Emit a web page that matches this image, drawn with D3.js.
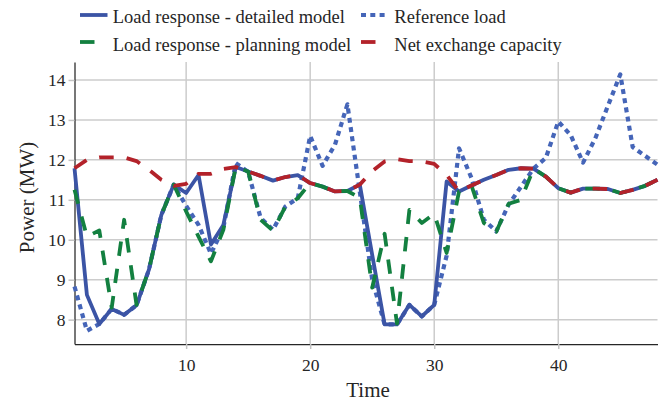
<!DOCTYPE html>
<html>
<head>
<meta charset="utf-8">
<script src="https://cdnjs.cloudflare.com/ajax/libs/d3/7.8.5/d3.min.js"></script>
<style>
  body { margin: 0; background: #fff; }
</style>
</head>
<body>
<div id="chart"></div>
<script>
// data
var time = [1, 2, 3, 4, 5, 6, 7, 8, 9, 10, 11, 12, 13, 14, 15, 16, 17, 18, 19, 20, 21, 22, 23, 24,
            25, 26, 27, 28, 29, 30, 31, 32, 33, 34, 35, 36, 37, 38, 39, 40, 41, 42, 43, 44, 45, 46, 47, 48];

var detailed = [11.79, 8.62, 7.89, 8.27, 8.12, 8.36, 9.25, 10.62, 11.38, 11.17, 11.62, 9.88,
                10.37, 11.82, 11.71, 11.60, 11.48, 11.57, 11.62, 11.42, 11.33, 11.21, 11.22, 11.38,
                9.62, 7.88, 7.88, 8.37, 8.08, 8.37, 11.46, 11.21, 11.36, 11.50, 11.62, 11.75,
                11.79, 11.78, 11.58, 11.29, 11.18, 11.28, 11.28, 11.27, 11.17, 11.25, 11.35, 11.50];

var planning = [11.25, 10.08, 10.23, 8.30, 10.50, 8.37, 9.25, 10.62, 11.38, 10.71, 10.08, 9.46,
                10.25, 11.82, 11.71, 10.50, 10.23, 10.83, 11.04, 11.42, 11.33, 11.21, 11.22, 11.05,
                8.80, 10.15, 7.90, 10.75, 10.42, 10.65, 9.67, 11.21, 11.36, 10.42, 10.20, 10.90,
                11.00, 11.78, 11.58, 11.29, 11.18, 11.28, 11.28, 11.27, 11.17, 11.25, 11.35, 11.50];

var reference = [8.83, 7.72, 7.89, 8.27, 8.12, 8.36, 9.25, 10.62, 11.38, 10.85, 10.37, 9.65,
                 10.30, 11.92, 11.70, 10.55, 10.25, 10.83, 11.04, 12.60, 11.85, 12.38, 13.39, 11.20,
                 9.00, 7.88, 7.88, 8.37, 8.08, 8.37, 9.60, 12.29, 11.55, 10.50, 10.21, 10.88,
                 11.33, 11.78, 12.05, 12.96, 12.62, 11.93, 12.55, 13.35, 14.14, 12.32, 12.10, 11.88];

var exchange = [11.79, 12.00, 12.06, 12.06, 12.06, 11.97, 11.75, 11.50, 11.35, 11.40, 11.65, 11.65,
                11.77, 11.82, 11.71, 11.60, 11.48, 11.57, 11.62, 11.42, 11.33, 11.21, 11.22, 11.38,
                11.72, 11.96, 12.02, 11.97, 11.96, 11.90, 11.62, 11.21, 11.36, 11.50, 11.62, 11.75,
                11.79, 11.78, 11.58, 11.29, 11.18, 11.28, 11.28, 11.27, 11.17, 11.25, 11.35, 11.50];

var xTicks = [10, 20, 30, 40];
var yTicks = [8, 9, 10, 11, 12, 13, 14];

var serif = '"Liberation Serif"';

// series in drawing order (reference sits under the detailed model)
var series = [
  {name: "Reference load",                  values: reference, color: "#4565b8", dash: "5,4.3", lw: 4.2},
  {name: "Load response - detailed model",  values: detailed,  color: "#3b54a5", dash: null, lw: 3.8},
  {name: "Load response - planning model",  values: planning,  color: "#138040", dash: "14.5,13", lw: 3.8},
  {name: "Net exchange capacity",           values: exchange,  color: "#b3222a", dash: "14.5,13", lw: 3.8}
];

// set the dimensions and margins of the graph
var margin = {top: 62, right: 4.5, bottom: 60, left: 74.5},
    width = 662 - margin.left - margin.right,
    height = 404 - margin.top - margin.bottom;

var svg = d3.select("#chart")
  .append("svg")
    .attr("width", 662)
    .attr("height", 404);

var g = svg.append("g")
    .attr("transform", "translate(" + margin.left + "," + margin.top + ")");

var x = d3.scaleLinear().domain([1, 48]).range([0, width]);
var y = d3.scaleLinear().domain([7.39, 14.45]).range([height, 0]);

// grid
g.append("g")
  .selectAll("line")
  .data(yTicks)
  .enter().append("line")
    .attr("x1", 0).attr("x2", width)
    .attr("y1", d => y(d)).attr("y2", d => y(d))
    .attr("stroke", "#cccccc").attr("stroke-width", 1.5);

g.append("g")
  .selectAll("line")
  .data(xTicks)
  .enter().append("line")
    .attr("y1", 0).attr("y2", height)
    .attr("x1", d => x(d)).attr("x2", d => x(d))
    .attr("stroke", "#cccccc").attr("stroke-width", 1.5);

// axes
var xAxis = g.append("g")
    .attr("transform", "translate(0," + height + ")")
    .call(d3.axisBottom(x).tickValues(xTicks).tickFormat(d3.format("d"))
      .tickSizeInner(5).tickSizeOuter(0).tickPadding(10));

var yAxis = g.append("g")
    .call(d3.axisLeft(y).tickValues(yTicks).tickFormat(d3.format("d"))
      .tickSizeInner(6).tickSizeOuter(0).tickPadding(3));

[xAxis, yAxis].forEach(function(a) {
  a.attr("font-family", serif).attr("font-size", 17.5);
  a.select(".domain").attr("stroke", "#262626").attr("stroke-width", 1.25);
  a.selectAll(".tick line").attr("stroke", "#c4c4c4").attr("stroke-width", 1.5);
  a.selectAll(".tick text").attr("fill", "#262626");
});

// lines
var line = d3.line()
  .x((d, i) => x(time[i]))
  .y(d => y(d));

series.forEach(function(s) {
  g.append("path")
    .datum(s.values)
    .attr("fill", "none")
    .attr("stroke", s.color)
    .attr("stroke-width", s.lw)
    .attr("stroke-linejoin", "round")
    .attr("stroke-dasharray", s.dash)
    .attr("d", line);
});

// axis labels
svg.append("text")
  .attr("text-anchor", "middle")
  .attr("x", 368)
  .attr("y", 397)
  .attr("font-family", serif)
  .attr("font-size", 21)
  .attr("fill", "#262626")
  .text("Time");

svg.append("text")
  .attr("text-anchor", "middle")
  .attr("transform", "translate(33.5,197.5) rotate(-90)")
  .attr("font-family", serif)
  .attr("font-size", 21)
  .attr("fill", "#262626")
  .text("Power (MW)");

// legend, two columns
var legendItems = [
  {s: series[1], hx: 80,  tx: 112.7, hy: 15, ty: 23.3},
  {s: series[2], hx: 80,  tx: 112.7, hy: 42, ty: 50.7},
  {s: series[0], hx: 361, tx: 394.3, hy: 15, ty: 23.3},
  {s: series[3], hx: 361, tx: 394.3, hy: 42, ty: 50.7}
];

var legend = svg.append("g");
legendItems.forEach(function(d) {
  legend.append("line")
    .attr("x1", d.hx).attr("x2", d.hx + 27.5)
    .attr("y1", d.hy).attr("y2", d.hy)
    .attr("stroke", d.s.color)
    .attr("stroke-width", d.s.lw)
    .attr("stroke-dasharray", d.s.dash);
  legend.append("text")
    .attr("x", d.tx)
    .attr("y", d.ty)
    .attr("font-family", serif)
    .attr("font-size", 18.5)
    .attr("fill", "#262626")
    .text(d.s.name);
});
</script>
</body>
</html>
